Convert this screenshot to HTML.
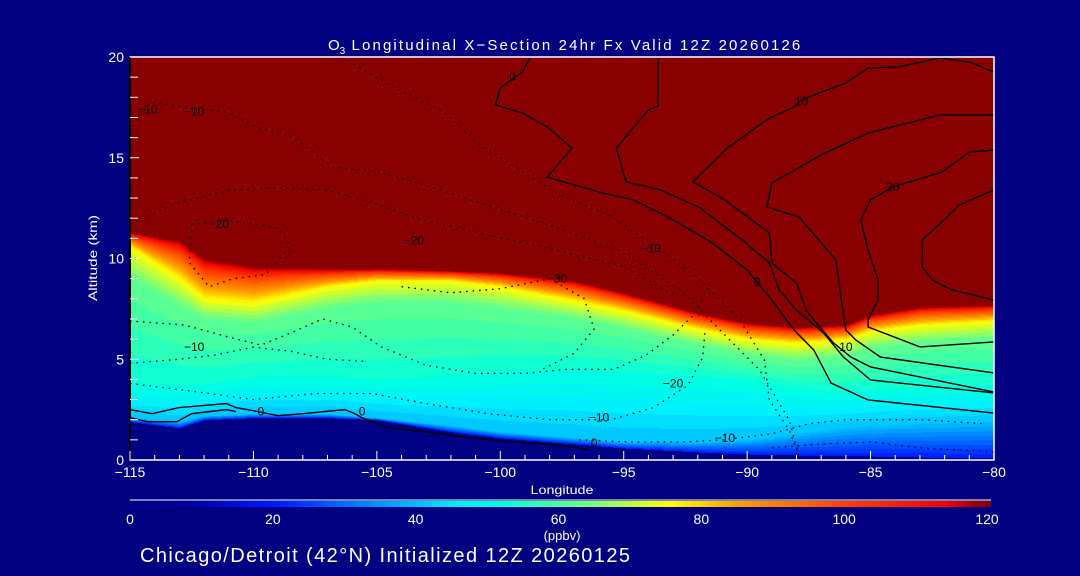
<!DOCTYPE html>
<html><head><meta charset="utf-8"><style>
html,body{margin:0;padding:0;background:#000080;}
#wrap{position:relative;width:1080px;height:576px;overflow:hidden;background:#000080;font-family:"Liberation Sans",sans-serif;}
#field{position:absolute;left:130px;top:57px;}
svg{position:absolute;left:0;top:0;}
</style></head><body>
<div id="wrap">
<canvas id="field" width="864" height="403"></canvas>
<svg id="svg" width="1080" height="576"></svg>
</div>
<script>
// ---- data ----
const lons   = [-115,-113,-112,-110,-107,-105,-102,-100,-97,-95,-92,-90,-88,-86,-85,-83,-80];
const terrain= [1.9,1.6,2.0,2.1,2.1,2.0,1.4,1.1,0.8,0.6,0.4,0.3,0.25,0.2,0.2,0.15,0.1];
const z40    = [2.1,1.9,2.2,2.3,2.3,2.1,1.7,1.4,1.1,0.9,0.9,1.0,1.3,1.6,1.7,1.8,1.9];
const z52    = [3.6,3.5,3.6,4.0,4.0,3.8,4.0,4.2,4.4,4.3,4.1,3.9,3.5,3.3,3.4,3.5,3.6];
const z62    = [9.0,7.6,7.0,6.8,7.5,7.8,7.8,7.5,7.0,6.5,5.7,5.2,4.9,5.1,5.5,5.8,6.0];
const z75    = [10.6,9.0,8.0,7.8,8.6,8.9,8.9,8.6,7.9,7.4,6.5,6.0,5.8,6.0,6.4,6.7,6.9];
const ztop   = [11.3,10.9,10.0,9.6,9.5,9.5,9.4,9.3,8.9,8.3,7.3,6.8,6.6,6.7,7.2,7.6,7.7];
const cbTicks = [0,20,40,60,80,100,120];
const xTicks = [-115,-110,-105,-100,-95,-90,-85,-80];
const yTicks = [0,5,10,15,20];
// contours: [lon, km] pairs
const solidContours = [
 [[-115,2.5],[-114.1,2.3],[-113,2.6],[-111.1,2.8],[-110.7,2.6],[-109.8,2.4],[-109,2.2],[-108.0,2.3],[-106.3,2.5],[-105.9,2.3],[-105.6,2.1],[-104.5,1.6],[-103,1.4],[-101.2,1.1],[-99.4,0.9],[-97.3,0.7],[-96.4,0.5]],
 [[-115,2.1],[-114.3,1.9],[-113.1,1.9],[-112.5,2.3],[-111.1,2.5],[-110.7,2.4]],
 [[-98.8,19.95],[-99.1,19.26],[-100.0,18.46],[-100.2,17.62],[-99.1,17.22],[-98.1,16.53],[-97.1,15.48],[-98.1,14.04],[-96.0,13.30],[-94.6,12.9],[-93.2,12.06],[-91.4,10.77],[-90.0,9.43],[-89.6,8.83],[-89.1,8.09],[-88.1,6.45],[-87.3,5.46],[-86.6,3.82],[-85.1,2.98],[-80,2.33]],
 [[-93.6,20],[-93.6,17.57],[-94.0,17.37],[-95.3,15.48],[-94.9,13.8],[-93.5,13.4],[-91.9,12.51],[-91.0,11.66],[-90.2,10.92],[-89.1,9.78],[-88.7,8.44],[-88.0,7.44],[-86.9,6.3],[-86.1,5.11],[-85.0,3.97],[-80,3.33]],
 [[-80,19.26],[-81.0,19.75],[-82.2,19.95],[-83.9,19.5],[-85.1,19.45],[-86.0,18.71],[-87.0,18.26],[-87.8,17.87],[-88.1,17.52],[-89.1,16.97],[-90.8,15.48],[-92.2,13.8],[-91.1,13.05],[-90.9,12.9],[-89.1,11.27],[-89.0,9.78],[-88.0,8.78],[-87.6,7.44],[-87.3,6.95],[-86.5,5.81],[-85.8,5.11],[-85.0,4.62],[-80,3.37]],
 [[-80,17.12],[-82.2,17.12],[-85.1,16.23],[-87.0,15.14],[-89.0,13.75],[-89.2,12.56],[-87.9,12.06],[-86.4,9.93],[-86.2,8.09],[-86.0,6.45],[-85.6,5.96],[-84.6,5.11],[-80,4.32]],
 [[-80,15.38],[-81.0,15.29],[-82.1,14.29],[-84.1,13.55],[-85.0,12.9],[-85.4,11.91],[-85.1,10.42],[-84.7,8.93],[-84.7,7.94],[-85.1,6.95],[-85.1,6.6],[-83.0,5.61],[-80,5.86]],
 [[-80,13.4],[-81.4,12.66],[-81.9,12.06],[-82.9,10.92],[-82.9,9.58],[-82.5,8.93],[-81.7,8.44],[-80,7.94]]
];
const dottedContours = [
 [[-115,16.28],[-114.2,17.77],[-112.6,17.47],[-111.1,17.27],[-109.9,16.53],[-108.4,16.03],[-106.8,14.54],[-104.9,14.29],[-102.8,13.55],[-100.8,12.75],[-98.0,11.66],[-95.2,10.42],[-92.7,8.44],[-91.1,6.45],[-89.5,4.47],[-88.3,1.99],[-87.9,0.2]],
 [[-106.4,20],[-105.2,19.1],[-103.7,18.11],[-102.4,17.37],[-100.8,15.63],[-99.2,14.39],[-97.6,13.15],[-95.6,12.16],[-93.5,10.42],[-91.9,8.93],[-90.3,6.95],[-89.3,4.96],[-89.1,2.98],[-88.3,1.49],[-87.9,0.2]],
 [[-115,11.7],[-113.2,12.7],[-111.0,13.4],[-109.0,13.5],[-107.0,13.4],[-105.0,12.7],[-103.4,12.0],[-101.0,11.3],[-98.0,10.5],[-95.0,9.6],[-93.0,8.2]],
 [[-112.5,11.7],[-111,11.9],[-109,11.5],[-108.5,10.6],[-109.5,9.2],[-110.8,9.0],[-111.8,8.6],[-112.6,9.8],[-112.5,11.7]],
 [[-115,6.9],[-112.8,6.7],[-111,6.1],[-109.7,5.7],[-108.5,6.3],[-107.2,7.0],[-106.0,6.6],[-104.8,5.6],[-103,4.7],[-101,4.3],[-99,4.3],[-97.3,4.5],[-95.4,4.5],[-94.1,5.2],[-93,6.2],[-92.0,7.4],[-91.6,8.6]],
 [[-115,4.8],[-113.0,5.0],[-111.6,5.2],[-110,5.6],[-108.5,5.4],[-107,5.0],[-105.5,4.9]],
 [[-115,3.8],[-112.4,3.4],[-110,3.0],[-107.5,3.3],[-105.2,3.3],[-103,2.8],[-100.5,2.3],[-98,2.0],[-95.5,2.0],[-93.8,2.6],[-92.4,3.7],[-91.8,5.1],[-91.7,6.5]],
 [[-104,8.6],[-102,8.3],[-100,8.5],[-98,9.0],[-96.6,8.0],[-96.2,6.5],[-97,5.3],[-98.3,4.5]],
 [[-96.8,1.0],[-94.8,0.9],[-92.5,0.9],[-91,1.0],[-89,1.3],[-87.5,1.8],[-86,2.0],[-83,2.0],[-80.3,1.8]],
 [[-89,0.6],[-87,0.8],[-85,0.9],[-83,0.6],[-80,0.4]]
];
const contourLabels = [[-114.3,17.4,'-10'],[-112.4,17.3,'-10'],[-103.5,10.9,'-20'],[-111.4,11.7,'-20'],[-97.7,9.0,'-30'],[-93.9,10.5,'-10'],[-112.4,5.6,'-10'],[-96.2,0.85,'0'],[-109.7,2.4,'0'],[-105.6,2.4,'0'],[-93.0,3.8,'-20'],[-96.0,2.1,'-10'],[-90.9,1.1,'-10'],[-99.5,19.0,'0'],[-89.6,8.83,'0'],[-86.0,5.6,'10'],[-87.8,17.8,'10'],[-84.1,13.55,'20']];

// ---- axes ----
const X0=130,X1=994,Y0=460,Y1=57;
const xs = lon => X0 + (lon+115)/35*(X1-X0);
const ys = km => Y0 - km/20*(Y0-Y1);

// ---- colormap ----
const cstops=[[0,[0,0,128]],[8,[0,0,160]],[20,[0,24,255]],[35,[0,150,255]],[46,[0,240,255]],[52,[0,255,225]],[58,[60,255,170]],[64,[110,255,130]],[70,[190,255,60]],[75,[255,255,0]],[85,[255,160,0]],[100,[255,60,0]],[114,[240,0,0]],[118,[150,0,0]],[120,[136,0,0]]];
function cmap(v){
  if(v<=0) return cstops[0][1];
  for(let i=1;i<cstops.length;i++){ if(v<=cstops[i][0]){const a=cstops[i-1],b=cstops[i],t=(v-a[0])/(b[0]-a[0]);return a[1].map((c,k)=>Math.round(c+(b[1][k]-c)*t));}}
  return cstops[cstops.length-1][1];
}
function interp(arr,lon){
  for(let i=1;i<lons.length;i++){ if(lon<=lons[i]){const t=(lon-lons[i-1])/(lons[i]-lons[i-1]);return arr[i-1]+(arr[i]-arr[i-1])*t;}}
  return arr[arr.length-1];
}
function val(lon,z){
  const t=interp(terrain,lon),a=interp(z40,lon),b=interp(z52,lon),c=interp(z62,lon),d=interp(z75,lon),e=interp(ztop,lon);
  if(z<t) return 0;
  if(z<a) return 20+(z-t)/(a-t)*20;
  if(z<b) return 40+(z-a)/(b-a)*12;
  if(z<c) return 52+(z-b)/(c-b)*10;
  if(z<d) return 62+(z-c)/(d-c)*13;
  const m=e-0.3*(e-d);
  if(z<m) return 75+(z-d)/(m-d)*25;
  if(z<e) return 100+(z-m)/(e-m)*20;
  return 121;
}
const cv=document.getElementById('field'),ctx=cv.getContext('2d');
const W=cv.width,H=cv.height,img=ctx.createImageData(W,H);
for(let px=0;px<W;px++){
  const lon=-115+px/W*35;
  for(let py=0;py<H;py++){
    const z=(H-py)/H*20;
    let v=val(lon,z);
    v=v>=120?120:Math.floor(v/2.5)*2.5+1.25;
    const c=cmap(v);const k=(py*W+px)*4;
    img.data[k]=c[0];img.data[k+1]=c[1];img.data[k+2]=c[2];img.data[k+3]=255;
  }
}
ctx.putImageData(img,0,0);

// ---- svg overlay ----
const NS='http://www.w3.org/2000/svg',svg=document.getElementById('svg');
function mk(tag,attrs,parent){const e=document.createElementNS(NS,tag);for(const k in attrs)e.setAttribute(k,attrs[k]);(parent||svg).appendChild(e);return e;}
function txt(x,y,s,size,anchor,extra){const t=mk('text',Object.assign({x:x,y:y,fill:'#fff','font-size':size,'text-anchor':anchor||'middle','font-family':'Liberation Sans, sans-serif'},extra||{}));t.textContent=s;return t;}

const gC=mk('g',{});


solidContours.forEach(c=>{
  const p=mk('polyline',{points:c.map(q=>xs(q[0])+','+ys(q[1])).join(' '),fill:'none',stroke:'#000','stroke-width':1.4},gC);
  
  
});
dottedContours.forEach(c=>{
  const p=mk('polyline',{points:c.map(q=>xs(q[0])+','+ys(q[1])).join(' '),fill:'none',stroke:'#000','stroke-width':1.3,'stroke-dasharray':'1.5 5'},gC);
  
  
});
contourLabels.forEach(l=>{
  const t=txt(xs(l[0]),ys(l[1])+4,l[2].replace('-','\u2212'),12,'middle',{fill:'#000'});
  
  
});

// frame
const fr=mk('path',{d:`M${X0},${Y1}H${X1}V${Y0}H${X0}Z`,fill:'none',stroke:'#fff','stroke-width':1.5});


const ax=mk('line',{x1:X0,y1:Y1,x2:X0,y2:Y0,stroke:'#000','stroke-width':2});


for(let l=-115;l<=-80;l++){
  const major=(l%5===0),len=major?9:5;
  const t=mk('line',{x1:xs(l),y1:Y0,x2:xs(l),y2:Y0-len,stroke:'#fff','stroke-width':1});
  
  
}
for(let k=0;k<=20;k++){
  const len=(k%5===0)?9:8;
  const t=mk('line',{x1:X0,y1:ys(k),x2:X0+len,y2:ys(k),stroke:'#fff','stroke-width':1});
  
  
}
xTicks.forEach(v=>{const t=txt(xs(v),477,String(v).replace('-','\u2212'),14);
  
  });
yTicks.forEach(v=>{const t=txt(124,ys(v)+5,String(v),14,'end');
  
  });
let t=txt(562,494,'Longitude',12,'middle',{textLength:63,lengthAdjust:'spacingAndGlyphs'});


t=txt(97,258,'Altitude (km)',12,'middle',{transform:'rotate(-90 97 258)',textLength:86,lengthAdjust:'spacingAndGlyphs'});


t=mk('text',{x:328,y:50,fill:'#fff','font-size':15,'text-anchor':'start','font-family':'Liberation Sans, sans-serif'});
t.innerHTML='O<tspan font-size="10" dy="4">3</tspan><tspan dy="-4" textLength="455" lengthAdjust="spacing"> Longitudinal X\u2212Section 24hr  Fx Valid 12Z 20260126</tspan>';



// colorbar
const defs=mk('defs',{});
const gr=mk('linearGradient',{id:'cb',x1:0,x2:1,y1:0,y2:0},defs);
cstops.forEach(s=>mk('stop',{offset:(s[0]/120),'stop-color':`rgb(${s[1].join(',')})`},gr));
const cb=mk('rect',{x:130,y:501,width:861,height:6,fill:'url(#cb)'});


const cbl=mk('line',{x1:130,y1:500,x2:991,y2:500,stroke:'#fff','stroke-width':1});


cbTicks.forEach(v=>{const e=txt(130+v/120*857,524,String(v),14);
  
  });
t=txt(562,540,'(ppbv)',13);


t=txt(140,562,'Chicago/Detroit (42\u00b0N) Initialized 12Z 20260125',20,'start',{textLength:490,lengthAdjust:'spacing'});


</script>
</body></html>
